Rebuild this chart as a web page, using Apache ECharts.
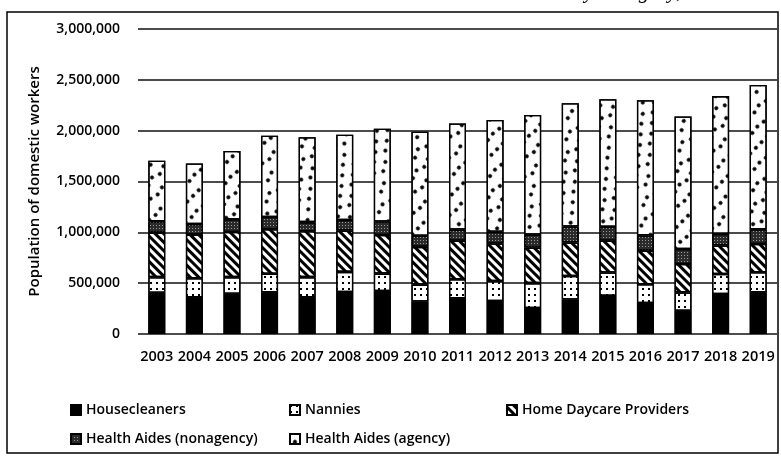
<!DOCTYPE html>
<html>
<head>
<meta charset="utf-8">
<script src="https://cdn.jsdelivr.net/npm/echarts@6/dist/echarts.min.js"></script>
<style>
html,body{margin:0;padding:0;background:#fff;}
#chart{width:781px;height:465px;}
</style>
</head>
<body>
<div id="chart"></div>
<script>
// ---- data ----
const years = ['2003','2004','2005','2006','2007','2008','2009','2010','2011','2012','2013','2014','2015','2016','2017','2018','2019'];
const housecleaners   = [405000, 362000, 395000, 411000, 362000, 413000, 422000, 320000, 352000, 325000, 255000, 340000, 375000, 305000, 229000, 393000, 410000];
const nannies         = [154000, 187000, 164000, 181000, 197000, 198000, 172000, 166000, 187000, 195000, 245000, 230000, 230000, 185000, 180000, 197000, 197000];
const daycare         = [438000, 428000, 444000, 438000, 451000, 406000, 380000, 371000, 378000, 370000, 350000, 330000, 312000, 330000, 279000, 280000, 278000];
const aidesNonagency  = [112000, 105000, 125000, 121000,  90000, 105000, 132000, 110000, 110000, 115000, 127000, 158000, 138000, 150000, 148000, 115000, 145000];
const aidesAgency     = [596000, 596000, 672000, 799000, 835000, 838000, 914000, 1023000, 1043000, 1100000, 1178000, 1212000, 1255000, 1330000, 1304000, 1355000, 1420000];
const seriesNames = ['Housecleaners', 'Nannies', 'Home Daycare Providers', 'Health Aides (nonagency)', 'Health Aides (agency)'];
const yMin = 0, yMax = 3000000, yStep = 500000;
const titleText = 'by Category, 2003\u20132019';

const FONT = '"Open Sans", "Liberation Sans", sans-serif';
const chart = echarts.init(document.getElementById('chart'));

function fmt(v){ return v.toString().replace(/\B(?=(\d{3})+(?!\d))/g, ','); }

const border = { borderColor: '#000', borderWidth: 1.3 };
const styles = [
  { color: '#000', ...border, decal: { symbol: 'rect', color: 'rgba(0,0,0,0)', dashArrayX: [1, 0], dashArrayY: [1, 0] } },
  { color: '#fff', ...border, decal: { symbol: 'rect', symbolSize: 1, color: '#000', dashArrayX: [2, 4], dashArrayY: [2, 4] } },
  { color: '#fff', ...border, decal: { symbol: 'rect', symbolSize: 1, color: '#000', dashArrayX: [1, 0], dashArrayY: [2.6, 2.4], rotation: Math.PI / 4 } },
  { color: '#2a2a2a', ...border, decal: { symbol: 'rect', symbolSize: 1, color: '#9a9a9a', dashArrayX: [1, 2], dashArrayY: [1, 2] } },
  { color: '#fff', ...border, decal: { symbol: 'circle', symbolSize: 1, color: '#000', dashArrayX: [[4, 9], [0, 6.5, 4, 2.5]], dashArrayY: [4, 4] } }
];
const dataSets = [housecleaners, nannies, daycare, aidesNonagency, aidesAgency];

const legendPos = [
  { left: 70, top: 403 },
  { left: 289, top: 403 },
  { left: 506, top: 403 },
  { left: 70, top: 432 },
  { left: 289, top: 432 }
];

const option = {
  backgroundColor: '#fff',
  animation: false,
  aria: { enabled: true, decal: { show: true } },
  grid: { left: 138, right: 4, top: 29, bottom: 131 },
  legend: seriesNames.map((n, i) => ({
    data: [n], left: legendPos[i].left, top: legendPos[i].top, padding: 0,
    icon: 'rect', itemWidth: 10, itemHeight: 10,
    textStyle: { fontFamily: FONT, fontSize: 14, fontWeight: 600, color: '#000' },
    selectedMode: false
  })),
  xAxis: {
    type: 'category', data: years,
    axisLine: { show: false }, axisTick: { show: false },
    axisLabel: { fontFamily: FONT, fontSize: 14.5, fontWeight: 600, color: '#000', margin: 15, interval: 0 }
  },
  yAxis: {
    type: 'value', min: yMin, max: yMax, interval: yStep,
    name: 'Population of domestic workers', nameLocation: 'middle', nameGap: 96,
    nameTextStyle: { fontFamily: FONT, fontSize: 15, fontWeight: 600, color: '#000' },
    axisLine: { show: false }, axisTick: { show: false },
    axisLabel: { fontFamily: FONT, fontSize: 14, fontWeight: 600, color: '#000', margin: 18, formatter: fmt },
    splitLine: { lineStyle: { color: '#111', width: 1.5 } }
  },
  series: seriesNames.map((n, i) => ({
    name: n, type: 'bar', stack: 'total', barWidth: 17,
    data: dataSets[i], itemStyle: styles[i]
  })),
  graphic: [
    { type: 'rect', shape: { x: 7, y: 12, width: 771, height: 441 }, style: { fill: 'none', stroke: '#000', lineWidth: 1.5 }, silent: true },
    { type: 'text', x: 781, y: 3, style: { text: titleText, font: 'italic 21px "Liberation Serif", serif', fill: '#000', align: 'right', verticalAlign: 'bottom' }, silent: true }
  ]
};
chart.setOption(option);
</script>
</body>
</html>
